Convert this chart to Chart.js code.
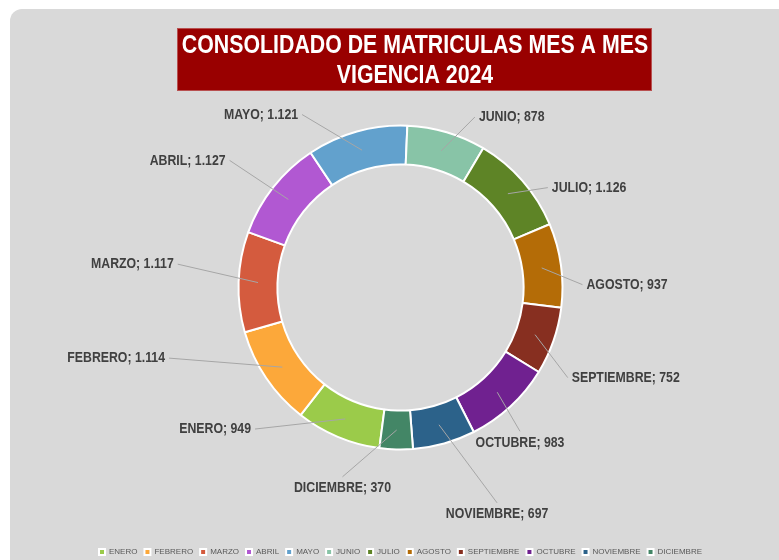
<!DOCTYPE html>
<html>
<head>
<meta charset="utf-8">
<script src="https://cdn.jsdelivr.net/npm/chart.js@4.4.1/dist/chart.umd.min.js"></script>
<style>
    html, body { margin: 0; padding: 0; background: #ffffff; }
    #wrap { position: relative; width: 779px; height: 560px; overflow: hidden; }
    #card { position: absolute; left: 10px; top: 9px; width: 820px; height: 620px; background: #d9d9d9; border-radius: 12px; }
    #chart { position: absolute; left: 0; top: 0; }
</style>
</head>
<body>
<div id="wrap">
    <div id="card"></div>
    <canvas id="chart" width="779" height="560"></canvas>
</div>
<script>
// Datos
const meses = ['ENERO', 'FEBRERO', 'MARZO', 'ABRIL', 'MAYO', 'JUNIO', 'JULIO',
    'AGOSTO', 'SEPTIEMBRE', 'OCTUBRE', 'NOVIEMBRE', 'DICIEMBRE'];
const matriculas = [949, 1114, 1117, 1127, 1121, 878, 1126, 937, 752, 983, 697, 370];
const colores = ['#9bcb4a', '#fca83a', '#d45b3e', '#b158d2', '#62a1cd', '#88c4a7',
    '#5e8426', '#b46c07', '#872f20', '#702190', '#2c628a', '#438666'];
const tituloLineas = ['CONSOLIDADO DE MATRICULAS MES A MES', 'VIGENCIA 2024'];

// Posición manual de las etiquetas (como en Excel): giro respecto al centro del sector y distancia
const labelLayout = [
    { da: 23, r: 203, side: 'left' },    // ENERO
    { da: 17, r: 242, side: 'left' },    // FEBRERO
    { da: 4, r: 224, side: 'left' },     // MARZO
    { da: -1.5, r: 213, side: 'left' },  // ABRIL
    { da: -14, r: 199, side: 'left' },   // MAYO
    { da: 7, r: 186, side: 'right' },    // JUNIO
    { da: 7, r: 178, side: 'right' },    // JULIO
    { da: 7, r: 182, side: 'right' },    // AGOSTO
    { da: 9, r: 190, side: 'right' },    // SEPTIEMBRE
    { da: 3, r: 187, side: 'below' },    // OCTUBRE
    { da: -8.5, r: 236, side: 'below' }, // NOVIEMBRE
    { da: 15.5, r: 198, side: 'below' }  // DICIEMBRE
];

const NARROW = '"Liberation Sans Narrow", "Arial Narrow", "Liberation Sans", Arial, sans-serif';

// si no hay fuente estrecha, se comprime la normal
let condense = 1;
(function () {
    const c = document.createElement('canvas').getContext('2d');
    c.font = 'bold 20px "Liberation Sans Narrow", "Arial Narrow", monospace';
    const w1 = c.measureText('MATRICULAS').width;
    c.font = 'bold 20px monospace';
    const w2 = c.measureText('MATRICULAS').width;
    if (Math.abs(w1 - w2) < 0.5) condense = 0.82;
})();

function narrowText(ctx, text, x, y, align, size, color) {
    ctx.save();
    ctx.font = 'bold ' + size + 'px ' + NARROW;
    ctx.fillStyle = color;
    ctx.textBaseline = 'middle';
    ctx.textAlign = align;
    ctx.translate(x, y);
    ctx.scale(condense, 1);
    ctx.fillText(text, 0, 0);
    ctx.restore();
}

const fmt = (v) => String(v).replace(/\B(?=(\d{3})+(?!\d))/g, '.');

const titlePlugin = {
    id: 'tituloCaja',
    afterDraw: (chart) => {
        const ctx = chart.ctx;
        ctx.save();
        ctx.fillStyle = '#990000';
        ctx.fillRect(177, 28, 475, 63);
        ctx.strokeStyle = '#b85050';
        ctx.lineWidth = 1;
        ctx.strokeRect(177.5, 28.5, 474, 62);
        ctx.restore();
        narrowText(ctx, tituloLineas[0], 415, 46, 'center', 26, '#ffffff');
        narrowText(ctx, tituloLineas[1], 415, 76, 'center', 26, '#ffffff');
    }
};

const labelsPlugin = {
    id: 'etiquetasExcel',
    afterDatasetsDraw: (chart) => {
        const ctx = chart.ctx;
        const meta = chart.getDatasetMeta(0);
        meta.data.forEach((arc, i) => {
            const p = arc.getProps(['x', 'y', 'startAngle', 'endAngle', 'innerRadius', 'outerRadius'], true);
            const mid = (p.startAngle + p.endAngle) / 2;
            const rMid = (p.innerRadius + p.outerRadius) / 2;
            const ax = p.x + Math.cos(mid) * rMid;
            const ay = p.y + Math.sin(mid) * rMid;
            const lay = labelLayout[i];
            const la = mid + lay.da * Math.PI / 180;
            const lx = p.x + Math.cos(la) * lay.r;
            const ly = p.y + Math.sin(la) * lay.r;

            ctx.save();
            ctx.strokeStyle = '#a6a6a6';
            ctx.lineWidth = 1;
            ctx.beginPath();
            ctx.moveTo(ax, ay);
            ctx.lineTo(lx, ly);
            ctx.stroke();
            ctx.restore();

            const text = meses[i] + '; ' + fmt(matriculas[i]);
            if (lay.side === 'left') {
                narrowText(ctx, text, lx - 4, ly, 'right', 15, '#404040');
            } else if (lay.side === 'right') {
                narrowText(ctx, text, lx + 4, ly, 'left', 15, '#404040');
            } else {
                narrowText(ctx, text, lx, ly + 11.5, 'center', 15, '#404040');
            }
        });
    }
};

const dataMatriculas = {
    labels: meses,
    datasets: [{
        data: matriculas,
        backgroundColor: colores,
        borderColor: '#ffffff',
        borderWidth: 2,
        hoverOffset: 0
    }]
};

const optionsMatriculas = {
    responsive: false,
    animation: false,
    rotation: 187.5,
    cutout: '76%',
    radius: 162,
    layout: {
        padding: { top: 34, bottom: -6, left: 22, right: 0 }
    },
    plugins: {
        legend: {
            display: true,
            position: 'bottom',
            labels: {
                boxWidth: 6,
                boxHeight: 6,
                padding: 7,
                color: '#595959',
                font: { size: 8, family: '"Liberation Sans", Arial, sans-serif' }
            }
        },
        tooltip: { enabled: false },
        title: { display: false }
    }
};

new Chart(document.querySelector('#chart'), {
    type: 'doughnut',
    data: dataMatriculas,
    options: optionsMatriculas,
    plugins: [titlePlugin, labelsPlugin]
});
</script>
</body>
</html>
